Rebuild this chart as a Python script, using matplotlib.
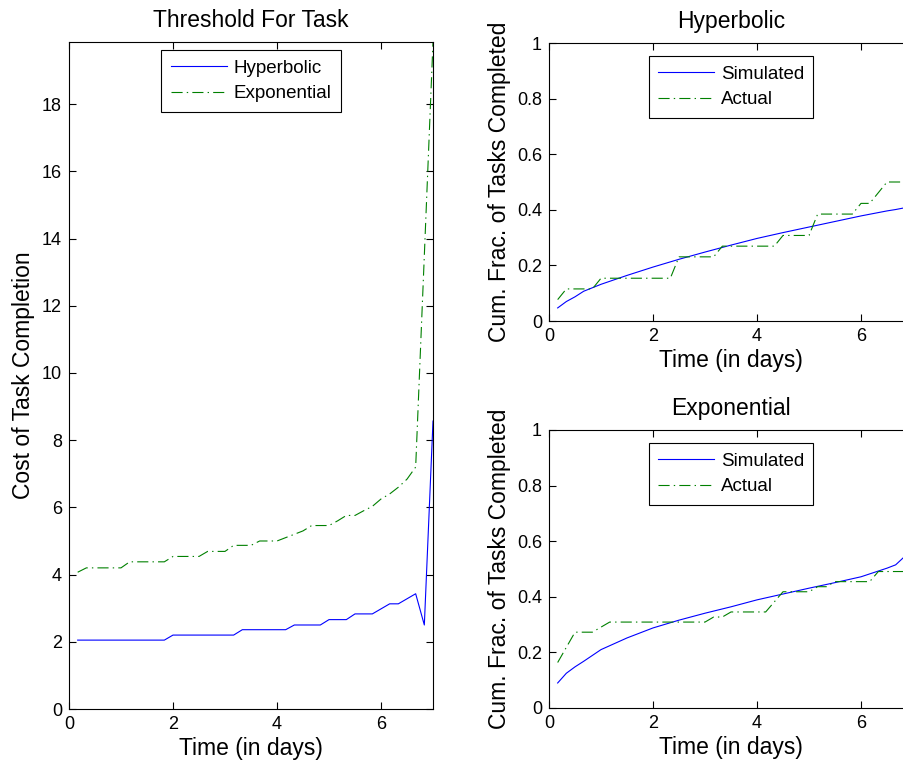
import numpy as np
import matplotlib
matplotlib.use('Agg')
import matplotlib.pyplot as plt

plt.rcParams['font.family'] = ['Liberation Sans', 'DejaVu Sans']
plt.rcParams['lines.scale_dashes'] = False

# time grid (in days), one sample every 4 hours
days = np.arange(1, 43) / 6.0

# threshold for task (left panel)
hyperbolicCost = [2.05, 2.05, 2.05, 2.05, 2.05, 2.05, 2.05, 2.05, 2.05, 2.05, 2.05,
                  2.2, 2.2, 2.2, 2.2, 2.2, 2.2, 2.2, 2.2,
                  2.36, 2.36, 2.36, 2.36, 2.36, 2.36,
                  2.5, 2.5, 2.5, 2.5,
                  2.66, 2.66, 2.66,
                  2.83, 2.83, 2.83,
                  2.98, 3.13, 3.13, 3.28, 3.43, 2.5, 8.57]
exponentialCost = [4.07, 4.2, 4.2, 4.2, 4.2, 4.2, 4.38, 4.38, 4.38, 4.38, 4.38,
                   4.54, 4.54, 4.54, 4.54, 4.69, 4.69, 4.69,
                   4.87, 4.87, 4.87, 5.0, 5.0, 5.0, 5.1, 5.2, 5.3, 5.46, 5.46, 5.46,
                   5.6, 5.76, 5.76, 5.9, 6.03, 6.25, 6.4, 6.6, 6.84, 7.2, 13.5, 19.85]

# simulated cumulative fraction of tasks completed
simDays = [1/6, 1/3, 1/2, 2/3, 1.0, 1.5, 2.0, 2.5, 3.0, 3.5, 4.0, 4.5, 5.0, 5.5,
           6.0, 6.5, 20/3, 41/6, 7.0]
hyperbolicSim = [0.047, 0.07, 0.087, 0.107, 0.132, 0.164, 0.194, 0.222, 0.248, 0.273,
                 0.297, 0.318, 0.338, 0.358, 0.378, 0.396, 0.401, 0.407, 0.414]
exponentialSim = [0.09, 0.125, 0.148, 0.168, 0.21, 0.252, 0.288, 0.316, 0.341, 0.364,
                  0.389, 0.41, 0.431, 0.451, 0.472, 0.503, 0.515, 0.544, 0.58]

# actual cumulative fraction (counts out of 26 and 55 tasks)
hyperbolicCount = [2, 3, 3, 3, 3, 4, 4, 4, 4, 4, 4, 4, 4, 4,
                   6, 6, 6, 6, 6, 7, 7, 7, 7, 7, 7, 7,
                   8, 8, 8, 8, 10, 10, 10, 10, 10, 11, 11, 12, 13, 13, 13, 13]
exponentialCount = [9, 12, 15, 15, 15, 16, 17, 17, 17, 17, 17, 17, 17, 17, 17, 17, 17, 17,
                    18, 18, 19, 19, 19, 19, 19, 21, 23, 23, 23, 23, 24, 24,
                    25, 25, 25, 25, 25, 27, 27, 27, 27, 27]
hyperbolicActual = np.array(hyperbolicCount) / 26.0
exponentialActual = np.array(exponentialCount) / 55.0

blue = (0, 0, 1)
green = (0, 0.5, 0)
dashDot = (0, (8, 3, 1, 3))
lw = 0.8

fig = plt.figure(figsize=(9.04, 7.61), dpi=100)
W, H = 904.0, 761.0


def style_axes(ax):
    ax.tick_params(direction='in', top=True, right=True, labelsize=13, length=5, width=0.8, pad=5)
    for s in ax.spines.values():
        s.set_linewidth(0.8)


def add_legend(ax, pad):
    leg = ax.legend(loc='upper center', fontsize=13.5, fancybox=False, edgecolor='black',
                    framealpha=1, borderaxespad=pad, handlelength=3.0, handletextpad=0.35,
                    labelspacing=0.45, borderpad=0.5)
    leg.get_frame().set_linewidth(0.8)


# left panel
ax1 = fig.add_axes([69 / W, (H - 709) / H, 364 / W, (709 - 42) / H])
ax1.plot(days, hyperbolicCost, color=blue, lw=lw, label='Hyperbolic')
ax1.plot(days, exponentialCost, color=green, lw=lw, linestyle=dashDot, label='Exponential')
ax1.set_xlim(0, 7)
ax1.set_ylim(0, 19.85)
ax1.set_xticks([0, 2, 4, 6])
ax1.set_yticks(np.arange(0, 19, 2))
ax1.set_title('Threshold For Task', fontsize=16.5, pad=11)
ax1.set_xlabel('Time (in days)', fontsize=16.5, labelpad=3)
ax1.set_ylabel('Cost of Task Completion', fontsize=16.5, labelpad=5)
style_axes(ax1)
add_legend(ax1, 0.45)

# right panels
panels = [
    (321, 'Hyperbolic', hyperbolicSim, hyperbolicActual),
    (708, 'Exponential', exponentialSim, exponentialActual),
]
for yBottom, title, sim, actual in panels:
    ax = fig.add_axes([549 / W, (H - yBottom) / H, 364 / W, 278 / H])
    ax.plot(simDays, sim, color=blue, lw=lw, label='Simulated')
    ax.plot(days, actual, color=green, lw=lw, linestyle=dashDot, label='Actual')
    ax.set_xlim(0, 7)
    ax.set_ylim(0, 1)
    ax.set_xticks([0, 2, 4, 6])
    ax.set_yticks([0, 0.2, 0.4, 0.6, 0.8, 1])
    ax.set_yticklabels(['0', '0.2', '0.4', '0.6', '0.8', '1'])
    ax.set_title(title, fontsize=16.5, pad=11)
    ax.set_xlabel('Time (in days)', fontsize=16.5, labelpad=3)
    ax.set_ylabel('Cum. Frac. of Tasks Completed', fontsize=16.5, labelpad=4)
    style_axes(ax)
    add_legend(ax, 0.7)

fig.savefig('out.png', dpi=100)
